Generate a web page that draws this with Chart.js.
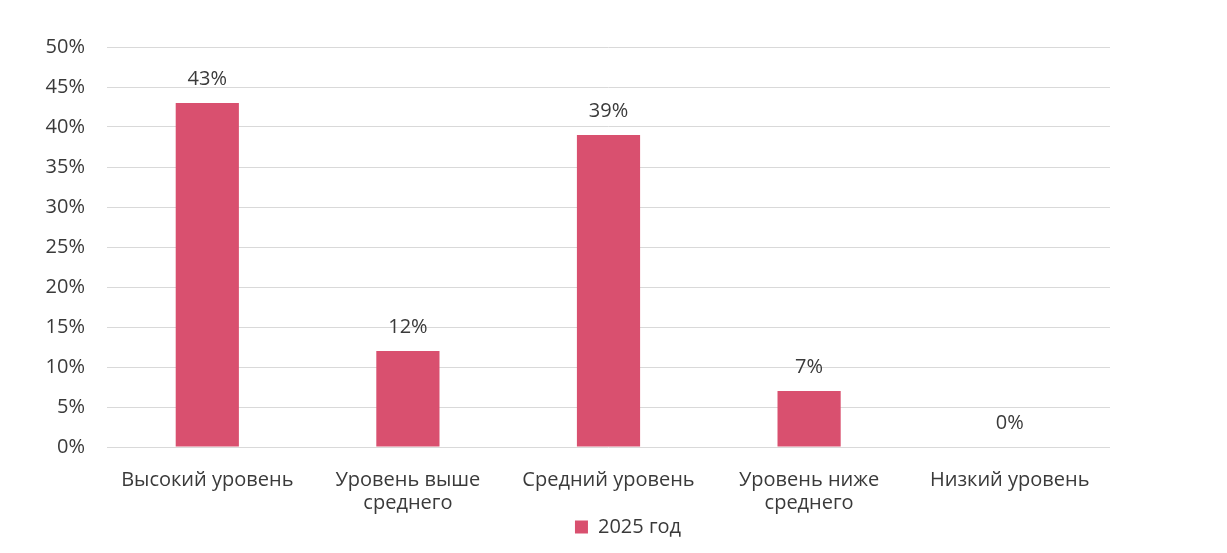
<!DOCTYPE html>
<html>
<head>
<meta charset="utf-8">
<script src="https://cdn.jsdelivr.net/npm/chart.js@4"></script>
<style>
  html, body { margin: 0; padding: 0; background: #fff; }
  #wrap { width: 1227px; height: 553px; position: relative; }
</style>
</head>
<body>
<div id="wrap"><canvas id="grafico"></canvas></div>
<script>
// Категории и значения
const categorias = [
  'Высокий уровень',
  ['Уровень выше', 'среднего'],
  'Средний уровень',
  ['Уровень ниже', 'среднего'],
  'Низкий уровень'
];
const valores2025 = [43, 12, 39, 7, 0];
const nomeSerie = '2025 год';

const corBarra = '#D9506F';
const corTexto = '#3a3a3a';
const fonte = "'Open Sans', sans-serif";

// Rótulos acima das barras
const rotulosDados = {
  id: 'rotulosDados',
  afterDatasetsDraw(chart) {
    const ctx = chart.ctx;
    const meta = chart.getDatasetMeta(0);
    ctx.save();
    ctx.font = '20px ' + fonte;
    ctx.fillStyle = corTexto;
    ctx.textAlign = 'center';
    ctx.textBaseline = 'middle';
    meta.data.forEach((bar, i) => {
      ctx.fillText(valores2025[i] + '%', bar.x, bar.y - 24);
    });
    ctx.restore();
  }
};

// Legenda um pouco à direita, como no original
const deslocaLegenda = {
  id: 'deslocaLegenda',
  afterLayout(chart) {
    const lg = chart.legend;
    lg.left += 63;
    lg.right += 63;
  }
};

const ctx = document.getElementById('grafico').getContext('2d');
new Chart(ctx, {
  type: 'bar',
  data: {
    labels: categorias,
    datasets: [{
      label: nomeSerie,
      data: valores2025,
      backgroundColor: corBarra,
      borderWidth: 0,
      barPercentage: 1,
      categoryPercentage: 0.315
    }]
  },
  options: {
    responsive: true,
    maintainAspectRatio: false,
    animation: false,
    layout: { padding: { left: 20, right: 117, top: 47, bottom: 6 } },
    plugins: {
      legend: {
        position: 'bottom',
        labels: {
          color: corTexto,
          font: { family: fonte, size: 20 },
          boxWidth: 13,
          boxHeight: 13,
          padding: 0
        }
      },
      tooltip: { enabled: false }
    },
    scales: {
      x: {
        grid: { display: false },
        border: { display: false },
        ticks: {
          color: corTexto,
          font: { family: fonte, size: 20, lineHeight: 1.18 },
          maxRotation: 0,
          autoSkip: false,
          padding: 13
        },
        afterFit: s => { s.height = 70; }
      },
      y: {
        min: 0,
        max: 50,
        ticks: {
          stepSize: 5,
          color: corTexto,
          font: { family: fonte, size: 20 },
          padding: 22,
          callback: v => v + '%'
        },
        grid: { color: '#d9d9d9', drawTicks: false },
        border: { display: false },
        afterFit: s => { s.width = 87; }
      }
    }
  },
  plugins: [rotulosDados, deslocaLegenda]
});
</script>
</body>
</html>
